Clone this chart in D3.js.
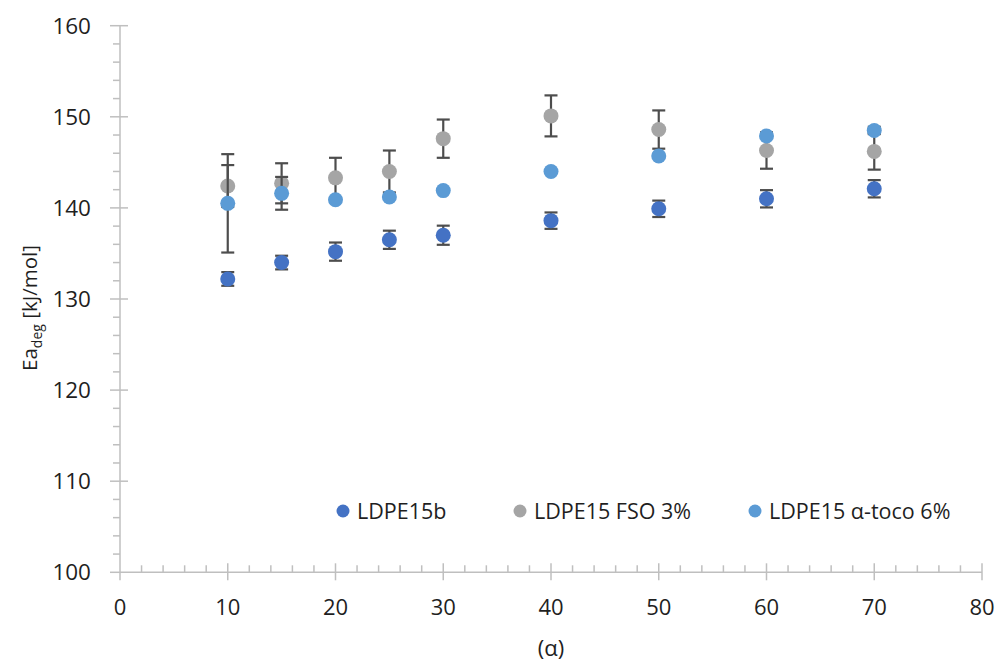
<!DOCTYPE html>
<html>
<head>
<meta charset="utf-8">
<script src="https://cdn.jsdelivr.net/npm/d3@7"></script>
<style>
  html, body { margin: 0; padding: 0; background: #fff; }
  svg { display: block; }
  text { font-family: "Open Sans", "Liberation Sans", Arial, sans-serif; fill: #1f1f1f; }
</style>
</head>
<body>
<svg id="chart" width="1000" height="661"></svg>
<script>
// ---- data ----
const alpha = [10, 15, 20, 25, 30, 40, 50, 60, 70];
const seriesNames = ["LDPE15b", "LDPE15 FSO 3%", "LDPE15 \u03b1-toco 6%"];
const ldpe15b      = [132.2, 134.0, 135.2, 136.5, 137.0, 138.6, 139.9, 141.0, 142.1];
const ldpe15bErr   = [0.75, 0.75, 1.0, 1.0, 1.05, 0.9, 0.9, 0.95, 0.95];
const fso3         = [142.4, 142.7, 143.3, 144.0, 147.6, 150.1, 148.6, 146.3, 146.2];
const fso3Err      = [2.3, 2.2, 2.2, 2.3, 2.1, 2.25, 2.1, 2.0, 2.0];
const toco6        = [140.5, 141.6, 140.9, 141.2, 141.9, 144.0, 145.7, 147.9, 148.5];
const toco6Err     = [5.4, 1.8, 0, 0, 0, 0, 0, 0, 0.4];
const xTicks = [0, 10, 20, 30, 40, 50, 60, 70, 80];
const yTicks = [100, 110, 120, 130, 140, 150, 160];
const colors = ["#4472C4", "#A5A5A5", "#5B9BD5"];

const series = [
  { name: seriesNames[0], values: ldpe15b, errs: ldpe15bErr, color: colors[0] },
  { name: seriesNames[1], values: fso3, errs: fso3Err, color: colors[1] },
  { name: seriesNames[2], values: toco6, errs: toco6Err, color: colors[2] }
];

// ---- layout ----
const svg = d3.select("#chart");
const pLeft = 120, pRight = 982, pTop = 25.7, pBottom = 572.3;
const x = d3.scaleLinear().domain([0, 80]).range([pLeft, pRight]);
const y = d3.scaleLinear().domain([100, 160]).range([pBottom, pTop]);
const axisColor = "#BFBFBF";

// minor ticks (x: inside, every 2; y: outside, every 2)
const xMinor = d3.range(0, 80.001, 2).filter(v => v % 10 !== 0);
const yMinor = d3.range(100, 160.001, 2).filter(v => v % 10 !== 0);
const g = svg.append("g");
g.selectAll(".xminor").data(xMinor).enter().append("line")
  .attr("x1", d => x(d)).attr("x2", d => x(d))
  .attr("y1", pBottom - 7).attr("y2", pBottom)
  .attr("stroke", axisColor).attr("stroke-width", 1.5);
g.selectAll(".yminor").data(yMinor).enter().append("line")
  .attr("x1", pLeft - 7).attr("x2", pLeft)
  .attr("y1", d => y(d)).attr("y2", d => y(d))
  .attr("stroke", axisColor).attr("stroke-width", 1.5);

// major ticks (cross)
g.selectAll(".xmajor").data(xTicks).enter().append("line")
  .attr("x1", d => x(d)).attr("x2", d => x(d))
  .attr("y1", d => d === 0 ? pBottom : pBottom - 9).attr("y2", pBottom + 8)
  .attr("stroke", axisColor).attr("stroke-width", 1.5);
g.selectAll(".ymajor").data(yTicks).enter().append("line")
  .attr("x1", pLeft - 10).attr("x2", d => d === 100 ? pLeft : pLeft + 8)
  .attr("y1", d => y(d)).attr("y2", d => y(d))
  .attr("stroke", axisColor).attr("stroke-width", 1.5);

// axis lines
g.append("line").attr("x1", pLeft).attr("x2", pRight).attr("y1", pBottom).attr("y2", pBottom)
  .attr("stroke", axisColor).attr("stroke-width", 1.5);
g.append("line").attr("x1", pLeft).attr("x2", pLeft).attr("y1", pTop).attr("y2", pBottom)
  .attr("stroke", axisColor).attr("stroke-width", 1.5);

// tick labels
g.selectAll(".xl").data(xTicks).enter().append("text")
  .attr("x", d => x(d)).attr("y", 615)
  .attr("text-anchor", "middle").attr("font-size", 22)
  .text(d => d);
g.selectAll(".yl").data(yTicks).enter().append("text")
  .attr("x", 91).attr("y", d => y(d) + 8)
  .attr("text-anchor", "end").attr("font-size", 22.5)
  .text(d => d);

// axis titles
svg.append("text").attr("x", (pLeft + pRight) / 2).attr("y", 656)
  .attr("text-anchor", "middle").attr("font-size", 22).text("(\u03b1)");
const yt = svg.append("text")
  .attr("transform", "translate(37," + 308 + ") rotate(-90)")
  .attr("text-anchor", "middle").attr("font-size", 20.5);
yt.append("tspan").text("Ea");
yt.append("tspan").attr("font-size", 14).attr("dy", 5).text("deg");
yt.append("tspan").attr("dy", -5).text(" [kJ/mol]");

// series: error bars then markers
const errColor = "#4D4D4D";
const cap = 6.5;
series.forEach(s => {
  const sg = svg.append("g");
  const pts = alpha.map((a, i) => ({ a, v: s.values[i], e: s.errs[i] }));
  const eb = pts.filter(p => p.e > 0);
  sg.selectAll(".ev").data(eb).enter().append("line")
    .attr("x1", p => x(p.a)).attr("x2", p => x(p.a))
    .attr("y1", p => y(p.v - p.e)).attr("y2", p => y(p.v + p.e))
    .attr("stroke", errColor).attr("stroke-width", 2.2);
  ["hi", "lo"].forEach(side => {
    sg.selectAll(".cap-" + side).data(eb).enter().append("line")
      .attr("class", "cap-" + side)
      .attr("x1", p => x(p.a) - cap).attr("x2", p => x(p.a) + cap)
      .attr("y1", p => y(side === "hi" ? p.v + p.e : p.v - p.e))
      .attr("y2", p => y(side === "hi" ? p.v + p.e : p.v - p.e))
      .attr("stroke", errColor).attr("stroke-width", 2.2);
  });
  sg.selectAll("circle").data(pts).enter().append("circle")
    .attr("cx", p => x(p.a)).attr("cy", p => y(p.v)).attr("r", 7.5)
    .attr("fill", s.color);
});

// legend
const legendX = [343, 520, 755];
const leg = svg.append("g");
series.forEach((s, i) => {
  leg.append("circle").attr("cx", legendX[i]).attr("cy", 511).attr("r", 6.5).attr("fill", s.color);
  leg.append("text").attr("x", legendX[i] + 14).attr("y", 519)
    .attr("font-size", 21.5).text(s.name);
});
</script>
</body>
</html>
